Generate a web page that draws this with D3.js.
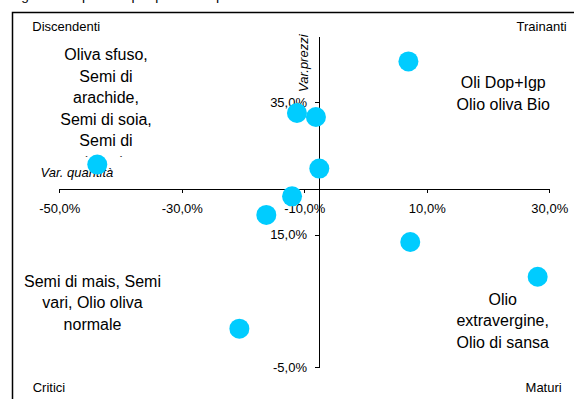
<!DOCTYPE html>
<meta charset="utf-8">
<style>
  html, body {
      margin: 0;
      padding: 0;
      background: #fff;
      overflow: hidden;
  }
  svg text {
      font-family: "Liberation Sans", Arial, sans-serif;
      fill: #000;
  }
  .axis path, .axis line {
      stroke: #000;
      stroke-width: 1px;
      shape-rendering: crispEdges;
  }
  .axis text {
      font-size: 13px;
  }
  .small { font-size: 13px; }
  .big { font-size: 16px; }
  .ital { font-style: italic; }
</style>
<body>
</body>
<script src="https://cdn.jsdelivr.net/npm/d3@7/dist/d3.min.js"></script>
<script>

  var width = 574, height = 399;

  // var. quantita' (x) and var. prezzi (y), in %
  var varQuantita = [7.0, -11.2, -8.1, -7.55, -43.8, -12.0, -16.2, 7.3, 28.1, -20.6];
  var varPrezzi   = [41.2, 33.4, 32.8, 25.0, 25.6, 20.8, 18.0, 13.9, 8.65, 0.8];

  var xTicks = [-50, -30, -10, 10, 30];
  var yTicks = [-5, 15, 35];
  var xDomain = [-50, 30];
  var yDomain = [-5, 45];
  // where the axes cross (averages)
  var xCross = -7.6;
  var yCross = 21.85;

  var quadranti = ["Discendenti", "Trainanti", "Critici", "Maturi"];
  var gruppiDisc = ["Oliva sfuso,", "Semi di", "arachide,", "Semi di soia,", "Semi di", "girasole,"];
  var gruppiTrain = ["Oli Dop+Igp", "Olio oliva Bio"];
  var gruppiCrit = ["Semi di mais, Semi", "vari, Olio oliva", "normale"];
  var gruppiMat = ["Olio", "extravergine,", "Olio di sansa"];

  var fmt = d => d.toFixed(1).replace(".", ",") + "%";

  var svg = d3.select("body").append("svg")
      .attr("width", width)
      .attr("height", height);

  /* title, cut off at the top */
  svg.append("text")
      .attr("x", 4.5)
      .attr("y", 0)
      .style("font-size", "13.7px")
      .text("Segmento e prodotti per prezzo e quantità");

  /* frame */
  svg.append("rect")
      .attr("x", 12.5).attr("y", 12.5)
      .attr("width", 600).attr("height", 420)
      .attr("fill", "none")
      .attr("stroke", "#000")
      .attr("stroke-width", 1.5);

  var x = d3.scaleLinear().domain(xDomain).range([59.3, 549.3]);
  var y = d3.scaleLinear().domain(yDomain).range([367, 36.3]);

  svg.append("g")
      .attr("class", "axis")
      .attr("transform", "translate(0," + y(yCross) + ")")
      .call(d3.axisBottom(x).tickValues(xTicks).tickSize(4).tickSizeOuter(0)
            .tickPadding(10).tickFormat(fmt));

  svg.append("g")
      .attr("class", "axis")
      .attr("transform", "translate(" + x(xCross) + ",0)")
      .call(d3.axisLeft(y).tickValues(yTicks).tickSize(4).tickSizeOuter(0)
            .tickPadding(8).tickFormat(fmt));

  svg.selectAll(".axis text").attr("font-family", null);

  /* axis titles */
  svg.append("text")
      .attr("class", "small ital")
      .attr("transform", "translate(308,92) rotate(-90)")
      .text("Var.prezzi");

  svg.append("text")
      .attr("class", "small ital")
      .attr("x", 40.5)
      .attr("y", 176.5)
      .text("Var. quantità");

  /* quadrant names */
  svg.append("text").attr("class", "small").attr("x", 32.3).attr("y", 31).text(quadranti[0]);
  svg.append("text").attr("class", "small").attr("x", 566.7).attr("y", 31)
      .attr("text-anchor", "end").text(quadranti[1]);
  svg.append("text").attr("class", "small").attr("x", 32.7).attr("y", 392.3).text(quadranti[2]);
  svg.append("text").attr("class", "small").attr("x", 561.7).attr("y", 392.3)
      .attr("text-anchor", "end").text(quadranti[3]);

  /* group notes (the first box overflows and is cut) */
  svg.append("clipPath").attr("id", "clipDisc")
      .append("rect").attr("x", 0).attr("y", 0).attr("width", 300).attr("height", 156.8);

  function note(lines, cx, y0, step, clip) {
      var t = svg.append("text")
          .attr("class", "big")
          .attr("text-anchor", "middle");
      if (clip) t.attr("clip-path", "url(#" + clip + ")");
      t.selectAll("tspan")
          .data(lines)
          .enter().append("tspan")
          .attr("x", cx)
          .attr("y", (d, i) => y0 + i * step)
          .text(d => d);
  }
  note(gruppiDisc, 106, 60, 21.5, "clipDisc");
  note(gruppiTrain, 503.3, 87.5, 22);
  note(gruppiCrit, 92.5, 286.5, 21.5);
  note(gruppiMat, 502.7, 304.5, 21.5);

  /* points */
  svg.selectAll("circle.pt")
      .data(varQuantita)
      .enter().append("circle")
      .attr("class", "pt")
      .attr("cx", d => x(d))
      .attr("cy", (d, i) => y(varPrezzi[i]))
      .attr("r", 10)
      .attr("fill", "#00ccff");

</script>
